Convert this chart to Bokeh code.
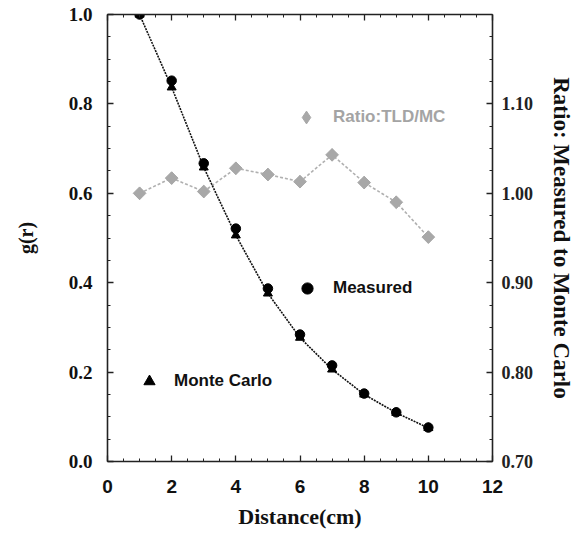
import math
from bokeh.plotting import figure
from bokeh.models import (Range1d, LinearAxis, SingleIntervalTicker, PrintfTickFormatter,
                          Legend, LegendItem, ColumnDataSource, CustomJSTickFormatter)
from bokeh.embed import file_html
from bokeh.resources import INLINE

# ---- data ----
distance = [1, 2, 3, 4, 5, 6, 7, 8, 9, 10]
measured = [1.000, 0.852, 0.667, 0.521, 0.387, 0.284, 0.215, 0.152, 0.110, 0.076]
monte_carlo = [1.000, 0.837, 0.658, 0.506, 0.376, 0.277, 0.206, 0.150, 0.109, 0.075]
ratio = [1.000, 1.017, 1.002, 1.028, 1.021, 1.013, 1.043, 1.012, 0.990, 0.951]

x_ticks_interval = 2
left_ticks_interval = 0.2
right_ticks_interval = 0.1

SERIF = "Liberation Serif"
SANS = "Liberation Sans"

p = figure(frame_width=385, frame_height=447, output_backend="svg", toolbar_location=None,
           x_range=Range1d(0, 12), y_range=Range1d(0, 1.0),
           min_border_left=107, min_border_right=80, min_border_top=14, min_border_bottom=68)
p.extra_y_ranges = {"ratio": Range1d(0.7, 1.2)}
p.xgrid.visible = False
p.ygrid.visible = False
p.outline_line_color = None
p.background_fill_color = "white"
p.border_fill_color = "white"

def style_axis(ax):
    ax.axis_line_color = "#222222"
    ax.axis_line_width = 1.6
    ax.major_tick_line_color = "#222222"
    ax.minor_tick_line_color = "#222222"
    ax.major_tick_line_width = 1.3
    ax.minor_tick_line_width = 1.0
    ax.major_tick_in = 6
    ax.major_tick_out = 0
    ax.minor_tick_in = 3
    ax.minor_tick_out = 0
    ax.axis_label_text_color = "#111111"

# bottom axis
xa = p.xaxis[0]
xa.ticker = SingleIntervalTicker(interval=x_ticks_interval, num_minor_ticks=4)
style_axis(xa)
xa.major_label_text_font = SANS
xa.major_label_text_font_style = "bold"
xa.major_label_text_font_size = "19px"
xa.major_label_text_color = "#111111"
xa.major_label_standoff = 18
xa.axis_label = "Distance(cm)"
xa.axis_label_text_font = SERIF
xa.axis_label_text_font_style = "bold"
xa.axis_label_text_font_size = "22px"
xa.axis_label_standoff = 8

# left axis
ya = p.yaxis[0]
ya.ticker = SingleIntervalTicker(interval=left_ticks_interval, num_minor_ticks=4)
ya.formatter = PrintfTickFormatter(format="%.1f")
style_axis(ya)
ya.major_label_text_font = SERIF
ya.major_label_text_font_style = "bold"
ya.major_label_text_font_size = "19px"
ya.major_label_text_color = "#111111"
ya.major_label_standoff = 15
ya.axis_label = "g(r)"
ya.axis_label_text_font = SERIF
ya.axis_label_text_font_style = "bold"
ya.axis_label_text_font_size = "20px"
ya.axis_label_standoff = 29

# top axis (ticks only)
ta = LinearAxis(ticker=SingleIntervalTicker(interval=x_ticks_interval, num_minor_ticks=4),
                formatter=CustomJSTickFormatter(code="return ''"))
style_axis(ta)
ta.major_label_standoff = 0
p.add_layout(ta, "above")

# right axis
ra = LinearAxis(y_range_name="ratio",
                ticker=SingleIntervalTicker(interval=right_ticks_interval, num_minor_ticks=4),
                formatter=PrintfTickFormatter(format="%.2f"))
style_axis(ra)
ra.major_label_text_font = SERIF
ra.major_label_text_font_style = "bold"
ra.major_label_text_font_size = "18px"
ra.major_label_text_color = "#222222"
ra.major_label_standoff = 9
ra.axis_label = "Ratio: Measured to Monte Carlo"
ra.axis_label_text_font = SERIF
ra.axis_label_text_font_style = "bold"
ra.axis_label_text_font_size = "23px"
ra.axis_label_standoff = 13
p.add_layout(ra, "right")

src = ColumnDataSource(dict(x=distance, m=measured, mc=monte_carlo, r=ratio))

# ratio series
p.line("x", "r", source=src, y_range_name="ratio", line_color="#b0b0b0",
       line_width=1.6, line_dash="3 2")
p.scatter("x", "r", source=src, y_range_name="ratio", marker="square",
          angle=math.pi / 4, size=9, fill_color="#a8a8a8", line_color="#a8a8a8")
# diamond drawn inside the rotated squares; also serves as the legend glyph
r_ratio = p.scatter("x", "r", source=src, y_range_name="ratio", marker="diamond",
                    size=12, fill_color="#a8a8a8", line_color="#a8a8a8")

# curve + points
p.line("x", "mc", source=src, line_color="#111111", line_width=1.6, line_dash="2 1")
r_mc = p.scatter("x", "mc", source=src, marker="triangle", size=9,
                 fill_color="black", line_color="black")
r_meas = p.scatter("x", "m", source=src, marker="circle", size=9.5,
                   fill_color="black", line_color="black")

def make_legend(label, renderer, loc, glyph, standoff, color):
    lg = Legend(items=[LegendItem(label=label, renderers=[renderer])], location=loc,
                border_line_alpha=0, background_fill_alpha=0, padding=0, margin=0,
                glyph_width=glyph, glyph_height=glyph, label_standoff=standoff,
                label_text_font=SANS, label_text_font_style="bold",
                label_text_font_size="17px", label_text_color=color)
    p.add_layout(lg, "center")

make_legend("Ratio:TLD/MC", r_ratio, (183, 328), 32, 11, "#a4a4a4")
make_legend("Measured", r_meas, (186, 159), 28, 12, "#111111")
make_legend("Monte Carlo", r_mc, (28, 66), 28, 11, "#111111")

open("out.html", "w").write(file_html(p, INLINE))
